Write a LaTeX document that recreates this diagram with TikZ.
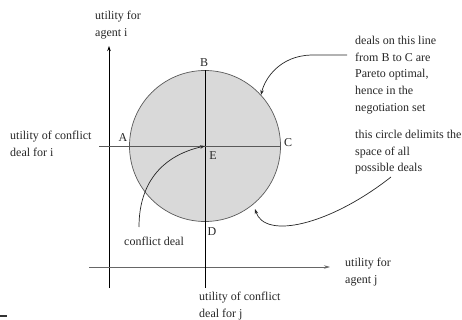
\documentclass[tikz,border=0pt]{standalone}
\usepackage{fontspec}
\setmainfont{Liberation Serif}
\usetikzlibrary{arrows.meta}
\begin{document}
\begin{tikzpicture}[x=1pt,y=-1pt,
  every node/.style={inner sep=0pt, font=\fontsize{12}{16.7}\selectfont, text=black!85},
  lbl/.style={align=left, anchor=north west},
  tipline/.style={-{Stealth[length=5pt,width=3.5pt]}, line width=0.7pt, black!85},
  axisline/.style={line width=0.8pt}]
\useasboundingbox (0,0) rectangle (462,320);
% circle of deals
\node[circle, minimum size=151pt, fill=black!15, draw=black!65, line width=0.7pt] (circ) at (205,146) {};
% axes
\coordinate (yb) at (109,288);
\coordinate (yt) at (109,46);
\draw[axisline, -{Stealth[length=5pt,width=3.5pt]}] (yb) -- (yt);
\coordinate (xl) at (89,267);
\coordinate (xr) at (330,267);
\draw[axisline, black!60, -{Stealth[length=6pt,width=3.5pt]}] (xl) -- (xr);
% lines through E
\coordinate (E) at (205,146);
\coordinate (Bt) at (205,70.5);
\coordinate (Db) at (205,288);
\draw[axisline] (Bt) -- (Db);
\coordinate (Al) at (99,146);
\coordinate (Cr) at (280.5,146);
\draw[axisline, black!65] (Al) -- (Cr);
% small mark bottom-left
\coordinate (m1) at (0,316);
\coordinate (m2) at (7,316);
\draw[line width=1.2pt, black!80] (m1) -- (m2);
% letters
\node (B) at (204,63) {B};
\node (A) at (123,138) {A};
\node (C) at (288,143) {C};
\node (Elbl) at (213,156) {E};
\node (D) at (212,232) {D};
% labels
\node[lbl] (uti) at (95,11) {utility for\\agent i};
\node[lbl] (uci) at (10,131) {utility of conflict\\deal for i};
\node[lbl] (cd) at (124,237) {conflict deal};
\node[lbl] (utj) at (345,258) {utility for\\agent j};
\node[lbl] (ucj) at (199,292) {utility of conflict\\deal for j};
\node[lbl] (par) at (355,36) {deals on this line\\from B to C are\\Pareto optimal,\\hence in the\\negotiation set};
\node[lbl] (cir) at (355,130) {this circle delimits the\\space of all\\possible deals};
% arrows
\coordinate (p0) at (347,55);
\coordinate (p1) at (311,55);
\coordinate (p2) at (261,95);
\draw[tipline] (p0) -- (p1) .. controls (280,56) and (265,78) .. (p2);
\coordinate (q0) at (391,177);
\coordinate (q1) at (255,209);
\draw[tipline] (q0) .. controls (330,225) and (265,240) .. (q1);
\coordinate (r0) at (139,227);
\draw[tipline] (r0) .. controls (139,180) and (165,155) .. (E);
\end{tikzpicture}
\end{document}
